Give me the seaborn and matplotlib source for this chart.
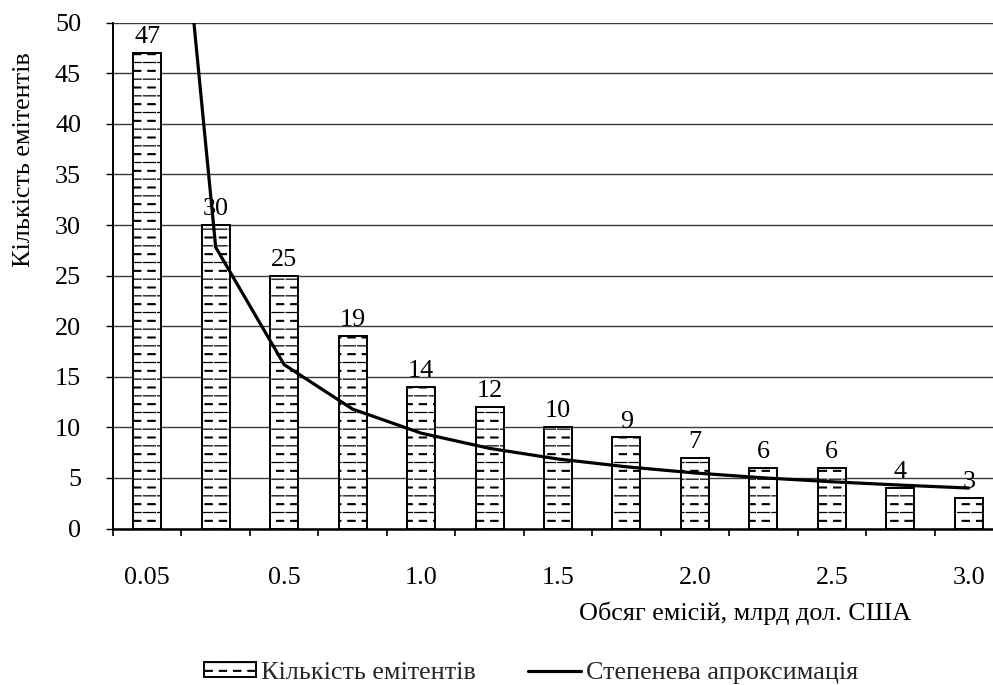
import numpy as np
import pandas as pd
import matplotlib
matplotlib.use("Agg")
import matplotlib.pyplot as plt
import matplotlib.hatch as mhatch
from matplotlib.path import Path
from matplotlib.patches import Patch
from matplotlib.lines import Line2D
import seaborn as sns

# Issue volume categories, bn USD
volumes = ["0.05", "0.25", "0.5", "0.75", "1.0", "1.25", "1.5",
           "1.75", "2.0", "2.25", "2.5", "2.75", "3.0"]
# Number of issuers per category
issuers = [47, 30, 25, 19, 14, 12, 10, 9, 7, 6, 6, 4, 3]
# Power-law trend values at each category
trend = [97.6, 27.8, 16.2, 11.8, 9.43, 7.92, 6.87, 6.10, 5.49, 5.01, 4.62, 4.29, 4.00]

shown_ticks = ["0.05", "0.5", "1.0", "1.5", "2.0", "2.5", "3.0"]

bar_label = "Кількість емітентів"
line_label = "Степенева апроксимація"
x_title = "Обсяг емісій, млрд дол. США"
y_title = "Кількість емітентів"


class DashRowHatch(mhatch.HatchPatternBase):
    """Alternating rows: long thin dashes and short heavy dashes."""
    rows = 12
    per_row = 7

    def __init__(self, hatch, density):
        segs = []
        if hatch.count('-'):
            period = 1.0 / self.per_row
            for i in range(self.rows):
                y = (i + 0.5) / self.rows
                if i % 2 == 0:
                    dash, off, ys = 0.12, 0.005, [y]
                else:
                    dash, off, ys = 0.07, 0.005 + period / 2 - 0.025, [y - 0.004, y + 0.004]
                for yy in ys:
                    for k in range(self.per_row):
                        x0 = k * period + off
                        x1 = x0 + dash
                        if x1 <= 1.0:
                            segs.append((x0, yy, x1, yy))
                        else:
                            segs.append((x0, yy, 1.0, yy))
                            segs.append((0.0, yy, x1 - 1.0, yy))
        self.segs = segs
        self.num_vertices = 2 * len(segs)

    def set_vertices_and_codes(self, vertices, codes):
        for j, (x0, y0, x1, y1) in enumerate(self.segs):
            vertices[2 * j] = (x0, y0)
            vertices[2 * j + 1] = (x1, y1)
            codes[2 * j] = Path.MOVETO
            codes[2 * j + 1] = Path.LINETO


mhatch._hatch_types = [DashRowHatch]

sns.set_theme(style="white")
plt.rcParams["font.family"] = ["Liberation Serif", "DejaVu Serif"]
plt.rcParams["hatch.linewidth"] = 0.9
plt.rcParams["hatch.color"] = "black"

FS = 18.8
FONT = {"family": ["Liberation Serif", "DejaVu Serif"], "size": FS}

df = pd.DataFrame({"volume": volumes, "issuers": issuers, "trend": trend,
                   "pos": np.arange(len(volumes))})

fig = plt.figure(figsize=(9.93, 6.85), dpi=100)
ax = fig.add_axes([113 / 993, 1 - 528.5 / 685, 890 / 993, (528.5 - 22.7) / 685])

sns.barplot(data=df, x="volume", y="issuers", order=volumes, ax=ax,
            color="white", edgecolor="black", linewidth=1.4, width=0.41,
            hatch="-", saturation=1, zorder=3)
for p in ax.patches:
    p.set_facecolor("white")

sns.lineplot(data=df, x="pos", y="trend", ax=ax, color="black",
             linewidth=2.3, zorder=4, sort=False)

ax.bar_label(ax.containers[0], labels=[str(v) for v in issuers],
             padding=3.5, fontproperties=FONT, color="black")

ax.set_ylim(0, 50)
ax.set_xlim(-0.5, len(volumes) - 0.5)
ax.set_yticks(np.arange(0, 51, 5))
ax.yaxis.grid(True, color="#3a3a3a", linewidth=1.0, zorder=0)
ax.xaxis.grid(False)
ax.set_axisbelow(True)

major = [volumes.index(t) for t in shown_ticks]
ax.set_xticks(major)
ax.set_xticklabels(shown_ticks)
ax.set_xticks(np.arange(-0.5, len(volumes), 1.0), minor=True)
ax.tick_params(axis="x", which="major", length=0, pad=28, labelsize=FS,
               labelcolor="black")
ax.tick_params(axis="x", which="minor", length=5, width=1.2, color="black",
               direction="out")
ax.tick_params(axis="y", which="major", length=5, width=1.0, color="black",
               direction="out", pad=18, labelsize=FS, labelcolor="black")
ax.tick_params(left=True, bottom=True, which="both")
for lab in ax.get_xticklabels() + ax.get_yticklabels():
    lab.set_fontfamily(FONT["family"])

for side in ["top", "right"]:
    ax.spines[side].set_visible(False)
ax.spines["left"].set_color("black")
ax.spines["left"].set_linewidth(1.4)
ax.spines["bottom"].set_color("black")
ax.spines["bottom"].set_linewidth(1.8)
ax.set_xlabel("")
ax.set_ylabel("")

fig.text(24 / 993, 1 - 160 / 685, y_title, rotation=90, ha="center",
         va="center", fontproperties=FONT, color="black")
fig.text(745 / 993, 1 - 613 / 685, x_title, ha="center", va="center",
         fontproperties=FONT, color="black")

handles = [Patch(facecolor="white", edgecolor="black", hatch="-", linewidth=1.4),
           Line2D([0], [0], color="black", linewidth=2.3)]
fig.legend(handles, [bar_label, line_label], loc="center",
           bbox_to_anchor=(531 / 993, 1 - 673 / 685), ncol=2, frameon=False,
           prop=FONT, handlelength=2.0, handleheight=0.5, handletextpad=0.2,
           columnspacing=2.0)

fig.savefig("out.png", dpi=100)
